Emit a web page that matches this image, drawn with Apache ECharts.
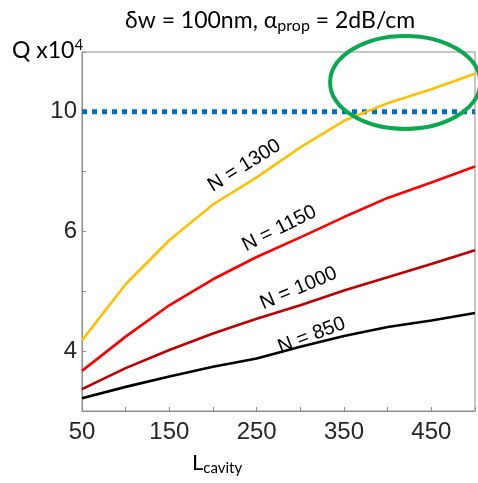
<!DOCTYPE html>
<html>
<head>
<meta charset="utf-8">
<script src="https://cdn.jsdelivr.net/npm/echarts@6/dist/echarts.min.js"></script>
<style>
  html, body { margin: 0; padding: 0; background: #ffffff; }
  #chart { width: 478px; height: 483px; }
</style>
</head>
<body>
<div id="chart"></div>
<script>
// Cavity length (x) and quality factor Q in units of 1e4 (y), one array per mirror count N
const cavityLengths = [50, 100, 150, 200, 250, 300, 350, 400, 450, 500];
const qN1300 = [4.15, 5.15, 6.10, 7.00, 7.77, 8.72, 9.66, 10.34, 10.91, 11.58];
const qN1150 = [3.69, 4.21, 4.75, 5.25, 5.72, 6.17, 6.67, 7.18, 7.62, 8.10];
const qN1000 = [3.44, 3.73, 4.00, 4.26, 4.51, 4.75, 5.03, 5.29, 5.57, 5.87];
const qN850  = [3.32, 3.47, 3.61, 3.75, 3.87, 4.05, 4.22, 4.37, 4.48, 4.61];
const qTarget = 10;
const seriesNames = ['N = 1300', 'N = 1150', 'N = 1000', 'N = 850'];
const xTickLabels = ['50', '150', '250', '350', '450'];
const yTickLabels = ['4', '6', '10'];

// log axis with a tenth-of-a-decade base: one tick per 10^0.1 step
const LOG_BASE = Math.pow(10, 0.1);

const pairs = (ys) => cavityLengths.map((x, i) => [x, ys[i]]);

const curveStyles = [
  { data: qN1300, color: '#FFC000' },
  { data: qN1150, color: '#FF0000' },
  { data: qN1000, color: '#C00000' },
  { data: qN850,  color: '#000000' }
];

// placement of the in-plot curve labels (data coordinates + text angle in degrees)
const curveLabelPlacement = [
  { at: [236, 8.13], angle: 32 },
  { at: [276, 6.38], angle: 26.5 },
  { at: [298, 5.07], angle: 23 },
  { at: [313, 4.23], angle: 21 }
];
// highlight ring around the region where N = 1300 exceeds the target
const highlightRing = { at: [420, 11.2], rx: 75, ry: 46.5 };

const AXIS_GRAY = '#8c8c8c';
const TEXT = '#262626';
const SANS = '"Liberation Sans", Arial, sans-serif';
const HUMANIST = 'Lato, sans-serif';

const chart = echarts.init(document.getElementById('chart'), null, { renderer: 'canvas' });

const option = {
  animation: false,
  backgroundColor: '#ffffff',
  title: {
    text: '{a|δw = 100nm, α}{sub|prop}{a| = 2dB/cm}',
    left: 120,
    top: 3,
    textStyle: {
      fontWeight: 'normal',
      rich: {
        a: { fontFamily: HUMANIST, fontSize: 23, fontWeight: 'normal', color: '#000' },
        sub: { fontFamily: HUMANIST, fontSize: 16, fontWeight: 'normal', color: '#000', verticalAlign: 'bottom', padding: [10, 0, 0, 0] }
      }
    }
  },
  grid: {
    left: 82, right: -2, top: 52, bottom: 72,
    show: true, borderColor: AXIS_GRAY, borderWidth: 1
  },
  xAxis: {
    type: 'value',
    min: 50, max: 500, interval: 50,
    axisLine: { show: true, lineStyle: { color: AXIS_GRAY, width: 1 } },
    axisTick: { show: true, inside: true, length: 4, lineStyle: { color: AXIS_GRAY } },
    splitLine: { show: false },
    axisLabel: {
      margin: 9,
      fontFamily: SANS, fontSize: 24, color: TEXT,
      formatter: (v) => (xTickLabels.indexOf(String(v)) >= 0 ? String(v) : '')
    }
  },
  yAxis: {
    type: 'log',
    logBase: LOG_BASE,
    min: Math.pow(10, 0.5),
    max: Math.pow(10, 1.1),
    interval: 1,
    axisLine: { show: true, lineStyle: { color: AXIS_GRAY, width: 1 } },
    axisTick: { show: true, inside: true, length: 4, lineStyle: { color: AXIS_GRAY } },
    splitLine: { show: false },
    axisLabel: {
      margin: 5,
      fontFamily: SANS, fontSize: 24, color: TEXT,
      formatter: (v) => {
        const s = String(Math.round(v));
        return yTickLabels.indexOf(s) >= 0 ? s : '';
      }
    }
  },
  series: [
    {
      name: 'target',
      type: 'line',
      data: [[cavityLengths[0], qTarget], [cavityLengths[cavityLengths.length - 1], qTarget]],
      showSymbol: false,
      silent: true,
      z: 2,
      lineStyle: { color: '#0070C0', width: 5, type: [5, 5], cap: 'butt' }
    }
  ].concat(curveStyles.map((c, i) => ({
    name: seriesNames[i],
    type: 'line',
    data: pairs(c.data),
    showSymbol: false,
    smooth: false,
    z: 3,
    lineStyle: { color: c.color, width: 2.6 }
  })))
};

chart.setOption(option);

// annotations positioned through the axes
const toPx = (pt) => chart.convertToPixel({ gridIndex: 0 }, pt);
const graphics = seriesNames.map((name, i) => {
  const p = toPx(curveLabelPlacement[i].at);
  return {
    type: 'text',
    x: p[0], y: p[1],
    rotation: curveLabelPlacement[i].angle * Math.PI / 180,
    style: {
      text: name, fill: '#000',
      font: '20px "Liberation Sans", Arial, sans-serif',
      align: 'center', verticalAlign: 'middle'
    },
    z: 10
  };
});
const ringCenter = toPx(highlightRing.at);
graphics.push({
  type: 'ellipse',
  shape: { cx: ringCenter[0], cy: ringCenter[1], rx: highlightRing.rx, ry: highlightRing.ry },
  style: { fill: 'none', stroke: '#0AA84F', lineWidth: 4 },
  z: 20
});
// axis titles
graphics.push({
  type: 'text', left: 12, top: 38,
  style: {
    text: '{a|Q x10}{sup|4}',
    rich: {
      a: { fontFamily: HUMANIST, fontSize: 23, fill: '#000' },
      sup: { fontFamily: HUMANIST, fontSize: 15, fill: '#000', verticalAlign: 'top', padding: [0, 0, 10, 0] }
    }
  }
});
graphics.push({
  type: 'text', left: 192, top: 452,
  style: {
    text: '{a|L}{sub|cavity}',
    rich: {
      a: { fontFamily: HUMANIST, fontSize: 22, fill: '#000' },
      sub: { fontFamily: HUMANIST, fontSize: 15, fill: '#000', padding: [10, 0, 0, 0] }
    }
  }
});
chart.setOption({ graphic: graphics });
</script>
</body>
</html>
